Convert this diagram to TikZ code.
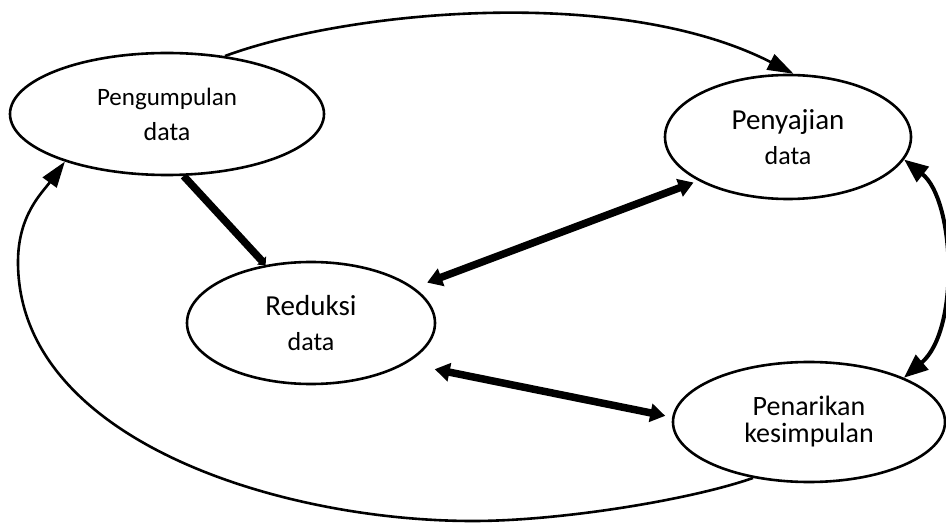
\documentclass[tikz,border=0pt]{standalone}
\usepackage{fontspec}
\setmainfont{Carlito}
\usetikzlibrary{shapes.geometric,arrows.meta}
\begin{document}
\begin{tikzpicture}[x=1bp,y=-1bp,
  stage/.style={ellipse,draw,line width=2.6bp,inner sep=0pt,align=center,
    font=\fontsize{26bp}{35bp}\selectfont},
  loopline/.style={line width=2.6bp,-{Triangle[length=26bp,width=17bp]}},
  bothline/.style={line width=4bp,{Triangle[length=24bp,width=19bp]}-{Triangle[length=24bp,width=19bp]}},
  thickline/.style={line width=7.5bp,{Triangle[length=15bp,width=18bp]}-{Triangle[length=15bp,width=18bp]}},
  feedline/.style={line width=7.5bp,-{Triangle[length=6bp,width=12bp]}}]
\useasboundingbox (0,0) rectangle (946,524);
\node[stage,minimum width=314bp,minimum height=122bp] (p1) at (167,114)
  {{\fontsize{25bp}{35bp}\selectfont Pengumpulan}\\data};
\node[stage,minimum width=246bp,minimum height=124bp] (p2) at (788,137)
  {{\fontsize{29bp}{37bp}\selectfont Penyajian}\\data};
\node[stage,minimum width=248bp,minimum height=122bp] (p3) at (311,323)
  {{\fontsize{29bp}{35bp}\selectfont Reduksi}\\data};
\node[stage,minimum width=272bp,minimum height=120bp,
  font=\fontsize{28bp}{27bp}\selectfont] (p4) at (809,422)
  {Penarikan\\kesimpulan};
% top loop: Pengumpulan -> Penyajian
\draw[loopline] (p1.45) .. controls (350,10) and (620,-15) .. (p2.85);
% right: Penyajian <-> Penarikan
\draw[bothline] (p2.-11) .. controls (955,200) and (960,330) .. (p4.25);
% bottom loop: Penarikan -> Pengumpulan
\draw[loopline] (p4.225) .. controls (690,500) and (560,521) .. (473,521)
  .. controls (280,521) and (18,440) .. (18,262)
  .. controls (18,215) and (42,193) .. (p1.205);
% thick links
\draw[feedline] (p1.-75) -- (p3.128);
\draw[thickline,shorten <=14bp,shorten >=5bp] (p3.19) -- (p2.206);
\draw[thickline,shorten <=29bp,shorten >=7bp] (p3.-23) -- (p4.178);
\end{tikzpicture}
\end{document}
